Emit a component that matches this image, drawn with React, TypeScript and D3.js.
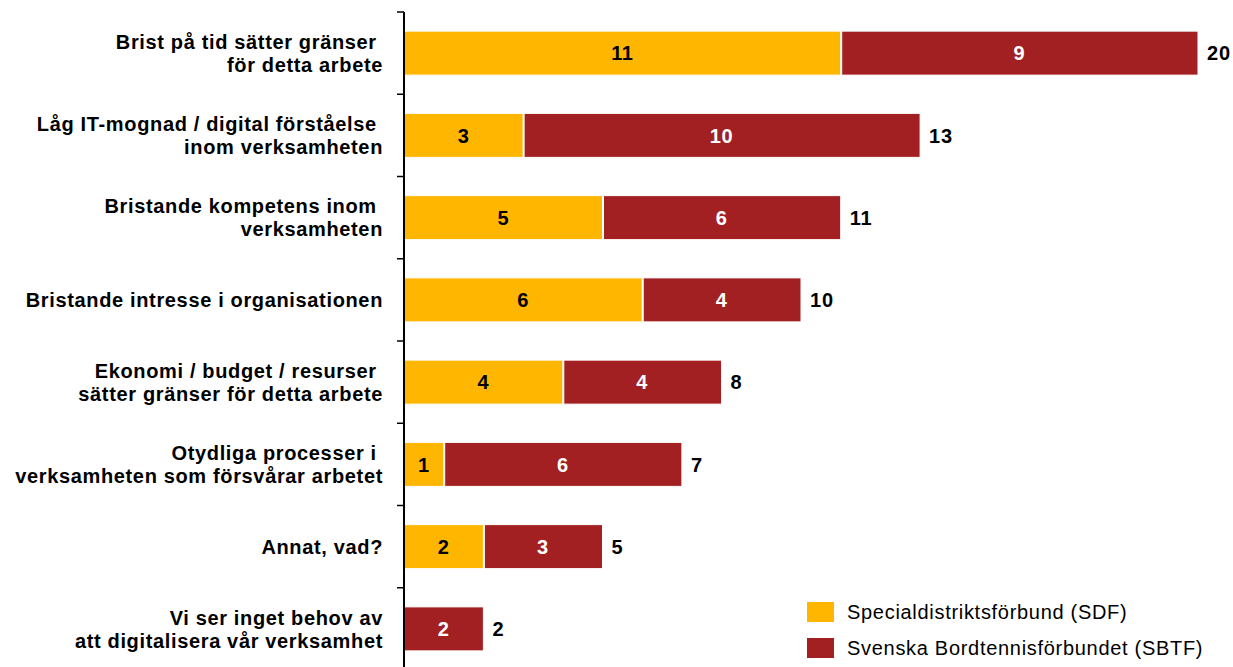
import React from "react";
import * as d3 from "d3";

const categories = [
  ["Brist på tid sätter gränser ", "för detta arbete"],
  ["Låg IT-mognad / digital förståelse ", "inom verksamheten"],
  ["Bristande kompetens inom ", "verksamheten"],
  ["Bristande intresse i organisationen"],
  ["Ekonomi / budget / resurser ", "sätter gränser för detta arbete"],
  ["Otydliga processer i ", "verksamheten som försvårar arbetet"],
  ["Annat, vad?"],
  ["Vi ser inget behov av", "att digitalisera vår verksamhet"],
];
const sdf = [11, 3, 5, 6, 4, 1, 2, 0];
const sbtf = [9, 10, 6, 4, 4, 6, 3, 2];
const seriesNames = ["Specialdistriktsförbund (SDF)", "Svenska Bordtennisförbundet (SBTF)"];
const colors = ["#FFB600", "#A32022"];

export default function App() {
  const W = 1233, H = 667;
  const x0 = 404;
  const x = d3.scaleLinear().domain([0, 20]).range([x0, 1198]);
  const y = d3.scaleBand<number>().domain(d3.range(categories.length)).range([12, 670]).padding(0);
  const barH = 44;
  const font = "'Liberation Sans', Arial, Helvetica, sans-serif";
  const fs = 20;
  return (
    <svg width={W} height={H} style={{ position: "absolute", left: 0, top: 0, fontFamily: font }}>
      {categories.map((lines, i) => {
        const yc = (y(i) as number) + y.bandwidth() / 2;
        const top = yc - barH / 2;
        const a = sdf[i], b = sbtf[i];
        const total = a + b;
        const lh = 23;
        return (
          <g key={i}>
            {a > 0 && (
              <rect x={x(0)} y={top} width={x(a) - x(0)} height={barH} fill={colors[0]} stroke="#fff" strokeWidth={1} />
            )}
            {b > 0 && (
              <rect x={x(a) + (a > 0 ? 1 : 0)} y={top} width={x(a + b) - x(a) - (a > 0 ? 1 : 0)} height={barH} fill={colors[1]} stroke="#fff" strokeWidth={1} />
            )}
            {a > 0 && (
              <text x={(x(0) + x(a)) / 2} y={yc} dy="0.36em" textAnchor="middle" fontWeight="bold" fontSize={fs} letterSpacing={0.6} fill="#000">{a}</text>
            )}
            {b > 0 && (
              <text x={(x(a) + x(a + b)) / 2} y={yc} dy="0.36em" textAnchor="middle" fontWeight="bold" fontSize={fs} letterSpacing={0.6} fill="#fff">{b}</text>
            )}
            <text x={x(total) + 9} y={yc} dy="0.36em" textAnchor="start" fontWeight="bold" fontSize={fs} letterSpacing={0.8} fill="#000">{total}</text>
            {lines.map((ln, j) => (
              <text key={j} x={383} y={yc + (j - (lines.length - 1) / 2) * lh} dy="0.36em" textAnchor="end" fontWeight="bold" fontSize={fs} letterSpacing={0.65} fill="#000" style={{ whiteSpace: "pre" }}>{ln}</text>
            ))}
          </g>
        );
      })}
      <line x1={x0} x2={x0} y1={12} y2={H} stroke="#000" strokeWidth={2} />
      {categories.map((_, i) => (
        <line key={i} x1={x0 - 7} x2={x0} y1={y(i) as number} y2={y(i) as number} stroke="#000" strokeWidth={1.5} />
      ))}
      {seriesNames.map((n, i) => (
        <g key={n}>
          <rect x={807} y={602 + i * 36} width={27} height={20} fill={colors[i]} />
          <text x={847} y={612 + i * 36} dy="0.36em" fontSize={20} letterSpacing={0.7} fill="#000">{n}</text>
        </g>
      ))}
    </svg>
  );
}
